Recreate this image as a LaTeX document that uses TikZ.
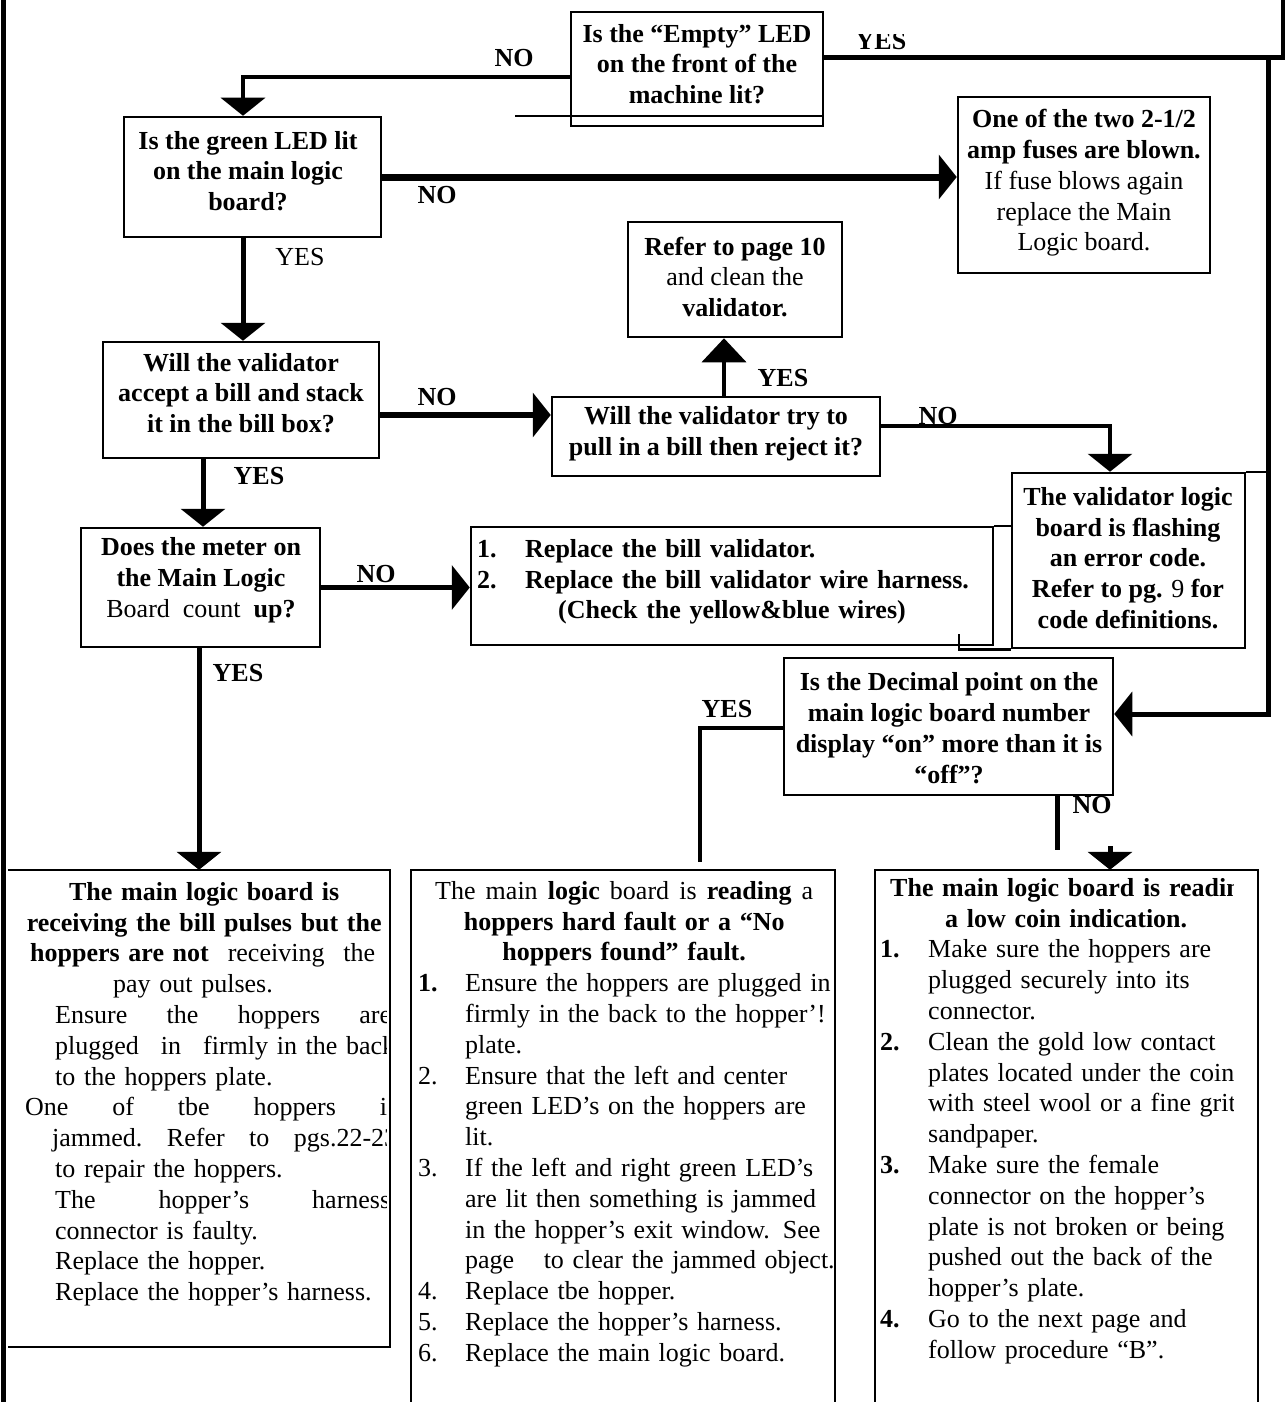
\documentclass[tikz,border=0pt]{standalone}
\usepackage{fontspec}
\setmainfont{Liberation Serif}
\usetikzlibrary{arrows.meta}
\newcommand{\jline}[2]{\makebox[#1][l]{#2}}
\begin{document}
\begin{tikzpicture}[x=1pt,y=-1pt,
  box/.style={draw,line width=2.5pt,inner sep=0pt},
  ghost/.style={inner sep=0pt},
  edge/.style={line width=2.5pt},
  txt/.style={font=\fontsize{26}{30.8}\selectfont,align=center,inner sep=0pt},
  btxt/.style={font=\fontsize{26}{30.8}\selectfont\bfseries,align=center,inner sep=0pt},
  list/.style={font=\fontsize{26}{30.8}\selectfont,align=left,inner sep=0pt,anchor=north west},
  lbl/.style={font=\fontsize{26}{30.8}\selectfont\bfseries,inner sep=0pt},
  rlbl/.style={font=\fontsize{26}{30.8}\selectfont,inner sep=0pt},
  conn/.style={line width=5pt},
  arr/.style={line width=5pt,-{Triangle[length=18pt,width=44pt]}},
]
\useasboundingbox (0,0) rectangle (1285,1402);

% page frame pieces
\draw[line width=5pt] (3.5,0) -- (3.5,1402);
\draw[line width=4pt] (1283,0) -- (1283,60);

% ---------- boxes ----------
\node[box,minimum width=252pt,minimum height=114pt] (top) at (697,69) {};
\node[box,minimum width=257pt,minimum height=120pt] (green) at (252.5,177) {};
\node[box,minimum width=276pt,minimum height=116pt] (valid) at (241,400) {};
\node[box,minimum width=252pt,minimum height=176pt] (fuse) at (1084,185) {};
\node[box,minimum width=214pt,minimum height=115pt] (refer) at (735,279.5) {};
\node[box,minimum width=328pt,minimum height=79pt] (try) at (716,436.5) {};
\node[box,minimum width=522pt,minimum height=118pt] (repl) at (732,586) {};
\node[box,minimum width=239pt,minimum height=119pt] (meter) at (200.5,587.5) {};
\node[box,minimum width=233pt,minimum height=175pt] (flash) at (1128.5,560.5) {};
\node[box,minimum width=329pt,minimum height=137pt] (dec) at (948.5,726.5) {};
\node[ghost,minimum width=382pt,minimum height=477pt] (lbox) at (199,1108.5) {};
\node[ghost,minimum width=424pt,minimum height=532pt] (mbox) at (623,1136) {};
\node[ghost,minimum width=383pt,minimum height=532pt] (rbox) at (1066.5,1136) {};

% open-sided bottom boxes
\draw[edge] (lbox.north west) -- (lbox.north east) -- (lbox.south east) -- (lbox.south west);
\draw[edge] (mbox.south west) -- (mbox.north west) -- (mbox.north east) -- (mbox.south east);
\draw[edge] (rbox.south west) -- (rbox.north west) -- (rbox.north east) -- (rbox.south east);

% extra printed rule pieces
\coordinate (topx) at (515,116);
\draw[edge] (topx) -- (topx -| top.east);
\draw[edge] (repl.north east) -- (repl.north east -| flash.west);
\coordinate (vTop) at (1268,58);
\coordinate (vBot) at (1268,714);
\draw[edge] (flash.north east) -- (flash.north east -| vBot);
\coordinate (fb) at (959,634);
\draw[edge] (fb) -- (fb |- flash.south) -- (flash.south west);

% ---------- texts ----------
\node[btxt] (topT) at (697,64) {Is the “Empty” LED\\on the front of the\\machine lit?};
\node[btxt] (greenT) at (248,171) {Is the green LED lit\\on the main logic\\board?};
\node[btxt] (validT) at (241,393) {Will the validator\\accept a bill and stack\\it in the bill box?};
\node[txt] (fuseT) at (1084,183) {\textbf{One of the two 2-1/2}\\\textbf{amp fuses are blown.}\\If fuse blows again\\replace the Main\\Logic board.};
\node[txt] (referT) at (735,277) {\textbf{Refer to page 10}\\and clean the\\\textbf{validator.}};
\node[btxt] (tryT) at (716,434) {Will the validator try to\\pull in a bill then reject it?};
\node[list,text width=520pt,font=\fontsize{26}{30.8}\selectfont\bfseries] (replT) at (477,539) {%
\makebox[48pt][l]{1.}Replace the bill validator.\\
\makebox[48pt][l]{2.}Replace the bill validator wire harness.\\
\hspace*{81pt}(Check the yellow\&blue wires)};
\node[txt] (meterT) at (201,580) {\textbf{Does the meter on}\\\textbf{the Main Logic}\\Board\ \ count\ \ \textbf{up?}};
\node[btxt] (flashT) at (1128,558) {The validator logic\\board is flashing\\an error code.\\Refer to pg. {\mdseries 9} for\\code definitions.};
\node[btxt] (decT) at (949,728) {Is the Decimal point on the\\main logic board number\\display “on” more than it is\\“off”?};

\begin{scope}
\clip (8,860) rectangle (386,1345);
\node[list,text width=420pt] (lboxT) at (25,882) {%
\makebox[358pt][c]{\bfseries The main logic board is}\\
\makebox[358pt][c]{\bfseries receiving the bill pulses but the}\\
\hspace*{5pt}\jline{345pt}{\textbf{hoppers are not}\hfill receiving\hfill the}\\
\hspace*{88pt}pay out pulses.\\
\hspace*{30pt}\jline{336pt}{Ensure\hfill the\hfill hoppers\hfill are}\\
\hspace*{30pt}\jline{340pt}{plugged\hfill in\hfill firmly in the back}\\
\hspace*{30pt}to the hoppers plate.\\
\jline{372pt}{One\hfill of\hfill tbe\hfill hoppers\hfill is}\\
\hspace*{27pt}\jline{345pt}{jammed.\hfill Refer\hfill to\hfill pgs.22-23}\\
\hspace*{30pt}to repair the hoppers.\\
\hspace*{30pt}\jline{335pt}{The\hfill hopper’s\hfill harness}\\
\hspace*{30pt}connector is faulty.\\
\hspace*{30pt}Replace the hopper.\\
\hspace*{30pt}Replace the hopper’s harness.};
\end{scope}

\node[list,text width=430pt] (mboxT) at (418,881) {%
\makebox[412pt][c]{\jline{378pt}{The\hfill main\hfill \textbf{logic}\hfill board\hfill is\hfill \textbf{reading}\hfill a}}\\
\makebox[412pt][c]{\bfseries hoppers hard fault or a “No}\\
\makebox[412pt][c]{\bfseries hoppers found” fault.}\\
\makebox[47pt][l]{\bfseries 1.}Ensure the hoppers are plugged in\\
\hspace*{47pt}firmly in the back to the hopper’!\\
\hspace*{47pt}plate.\\
\makebox[47pt][l]{2.}Ensure that the left and center\\
\hspace*{47pt}green LED’s on the hoppers are\\
\hspace*{47pt}lit.\\
\makebox[47pt][l]{3.}If the left and right green LED’s\\
\hspace*{47pt}are lit then something is jammed\\
\hspace*{47pt}in the hopper’s exit window. See\\
\hspace*{47pt}page\hspace{0.8em} to clear the jammed object.\\
\makebox[47pt][l]{4.}Replace tbe hopper.\\
\makebox[47pt][l]{5.}Replace the hopper’s harness.\\
\makebox[47pt][l]{6.}Replace the main logic board.};

\begin{scope}
\clip (878,860) rectangle (1233,1402);
\node[list,text width=400pt] (rboxT) at (880,878) {%
\hspace*{10pt}\textbf{The main logic board is reading}\\
\makebox[372pt][c]{\bfseries a low coin indication.}\\
\makebox[48pt][l]{\bfseries 1.}Make sure the hoppers are\\
\hspace*{48pt}plugged securely into its\\
\hspace*{48pt}connector.\\
\makebox[48pt][l]{\bfseries 2.}Clean the gold low contact\\
\hspace*{48pt}plates located under the coin\\
\hspace*{48pt}with steel wool or a fine grit\\
\hspace*{48pt}sandpaper.\\
\makebox[48pt][l]{\bfseries 3.}Make sure the female\\
\hspace*{48pt}connector on the hopper’s\\
\hspace*{48pt}plate is not broken or being\\
\hspace*{48pt}pushed out the back of the\\
\hspace*{48pt}hopper’s plate.\\
\makebox[48pt][l]{\bfseries 4.}Go to the next page and\\
\hspace*{48pt}follow procedure “B”.};
\end{scope}

% ---------- labels ----------
\node[lbl] (noA) at (514,58) {NO};
\begin{scope}
\clip (830,35) rectangle (940,70);
\node[lbl] (yesA) at (881,41) {YES};
\end{scope}
\node[lbl] (noB) at (437,195) {NO};
\node[rlbl] (yesB) at (300,257) {YES};
\node[lbl] (noC) at (437,397) {NO};
\node[lbl] (yesC) at (783,378) {YES};
\node[lbl] (noD) at (938,416) {NO};
\node[lbl] (yesD) at (259,476) {YES};
\node[lbl] (noE) at (376,574) {NO};
\node[lbl] (yesE) at (238,673) {YES};
\node[lbl] (yesF) at (727,709) {YES};
\node[lbl] (noF) at (1092,805) {NO};

% ---------- connectors ----------
\coordinate (nobend) at (243,77);
\draw[arr,line width=4pt] (top.west |- nobend) -- (nobend) -- (nobend |- green.north);
\coordinate (yT) at (1285,58);
\draw[conn] (top.east |- yT) -- (yT);
\draw[arr] (vTop) -- (vBot) -- (dec.east |- vBot);
\draw[arr,line width=7pt] (green.east) -- (fuse.west |- green.east);
\draw[arr] (nobend |- green.south) -- (nobend |- valid.north);
\coordinate (y415) at (0,415);
\draw[arr,line width=6pt] (valid.east |- y415) -- (try.west |- y415);
\coordinate (x724) at (724,0);
\draw[line width=4pt,-{Triangle[length=24pt,width=44pt]}] (x724 |- try.north) -- (x724 |- refer.south);
\coordinate (tfbend) at (1110,426);
\draw[arr,line width=4pt] (try.east |- tfbend) -- (tfbend) -- (tfbend |- flash.north);
\coordinate (x203) at (203,0);
\draw[arr] (x203 |- valid.south) -- (x203 |- meter.north);
\draw[arr] (meter.east) -- (repl.west |- meter.east);
\coordinate (x199) at (199,0);
\draw[arr] (x199 |- meter.south) -- (x199 |- lbox.north);
\coordinate (ybend) at (700,728);
\coordinate (yend) at (700,862);
\draw[conn,line width=4pt] (dec.west |- ybend) -- (ybend) -- (yend);
\coordinate (nox) at (1057,850);
\draw[conn] (dec.south -| nox) -- (nox);
\coordinate (noarr) at (1110,846);
\draw[arr] (noarr) -- (noarr |- rbox.north);
\end{tikzpicture}
\end{document}
